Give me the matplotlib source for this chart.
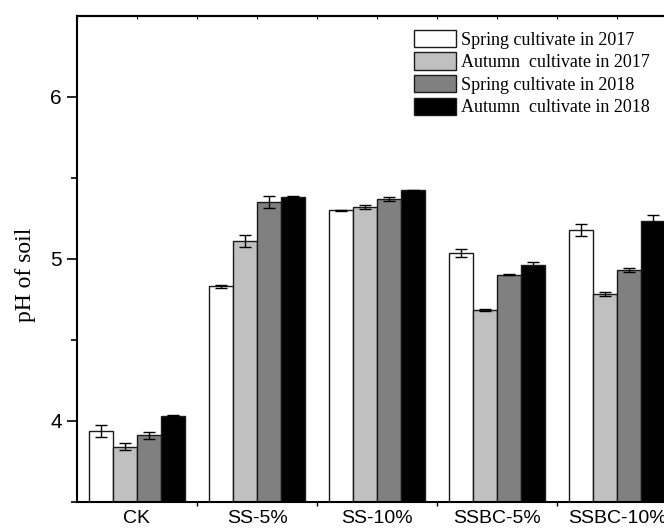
import numpy as np
import matplotlib
matplotlib.use("Agg")
import matplotlib.pyplot as plt

categories = ["CK", "SS-5%", "SS-10%", "SSBC-5%", "SSBC-10%"]
series = ["Spring cultivate in 2017", "Autumn  cultivate in 2017",
          "Spring cultivate in 2018", "Autumn  cultivate in 2018"]

spring_2017 = [3.938, 4.829, 5.298, 5.035, 5.175]
autumn_2017 = [3.840, 5.109, 5.319, 4.681, 4.782]
spring_2018 = [3.910, 5.350, 5.370, 4.901, 4.930]
autumn_2018 = [4.031, 5.383, 5.421, 4.963, 5.230]

err_spring_2017 = [0.038, 0.009, 0.005, 0.023, 0.037]
err_autumn_2017 = [0.020, 0.036, 0.011, 0.006, 0.013]
err_spring_2018 = [0.020, 0.037, 0.011, 0.004, 0.010]
err_autumn_2018 = [0.004, 0.003, 0.005, 0.018, 0.037]

values = [spring_2017, autumn_2017, spring_2018, autumn_2018]
errors = [err_spring_2017, err_autumn_2017, err_spring_2018, err_autumn_2018]
colors = ["white", "#c0c0c0", "#808080", "black"]

fig = plt.figure(figsize=(6.64, 5.30), dpi=100)
W, H = 664, 530
# axes extends past the right edge of the image, like the reference
ax = fig.add_axes([77 / W, (H - 501.7) / H, 600 / W, 486 / H])

x = np.arange(len(categories))
width = 0.2
for i, (vals, errs, c) in enumerate(zip(values, errors, colors)):
    pos = x + (i - 1.5) * width
    ax.bar(pos, vals, width, bottom=0, color=c, edgecolor="#1a1a1a",
           linewidth=1.0, label=series[i], zorder=2)
    ax.errorbar(pos, vals, yerr=errs, fmt="none", ecolor="black",
                elinewidth=1.0, capsize=4.5, capthick=1.0, zorder=3)

ax.set_xlim(-0.5, 4.5)
ax.set_ylim(3.5, 6.5)

ax.set_xticks(x)
ax.set_xticklabels(categories, fontfamily="Liberation Sans", fontsize=14)
ax.set_xticks(np.arange(0.5, 4.5, 1.0), minor=True)
ax.tick_params(axis="x", which="major", length=0, pad=6)
ax.tick_params(axis="x", which="minor", length=3, direction="out", width=1)

ax.set_yticks([4, 5, 6])
ax.set_yticks([3.5, 4.5, 5.5], minor=True)
ax.tick_params(axis="y", which="major", length=7, width=1.2, pad=4,
               labelsize=15)
ax.tick_params(axis="y", which="minor", length=4, width=1.2)
for lab in ax.get_yticklabels():
    lab.set_fontfamily("Liberation Sans")

top = ax.secondary_xaxis("top")
top.set_xticks(np.arange(-0.5, 4.6, 0.5))
top.set_xticklabels([])
top.tick_params(length=2, direction="in", width=0.8)

for side in ["left", "bottom", "top"]:
    ax.spines[side].set_linewidth(1.5)
top.spines["top"].set_linewidth(1.5)
ax.spines["right"].set_visible(False)

ax.set_ylabel("pH of soil", fontfamily="Liberation Serif", fontsize=17)
ax.yaxis.set_label_coords(-0.068, 0.466)

ax.legend(loc="upper left", bbox_to_anchor=(0.562, 0.971), frameon=False,
          prop={"family": "Liberation Serif", "size": 13},
          handlelength=2.3, handleheight=1.1, handletextpad=0.3,
          labelspacing=0.21, borderaxespad=0, borderpad=0)

fig.savefig("out.png", dpi=100)
